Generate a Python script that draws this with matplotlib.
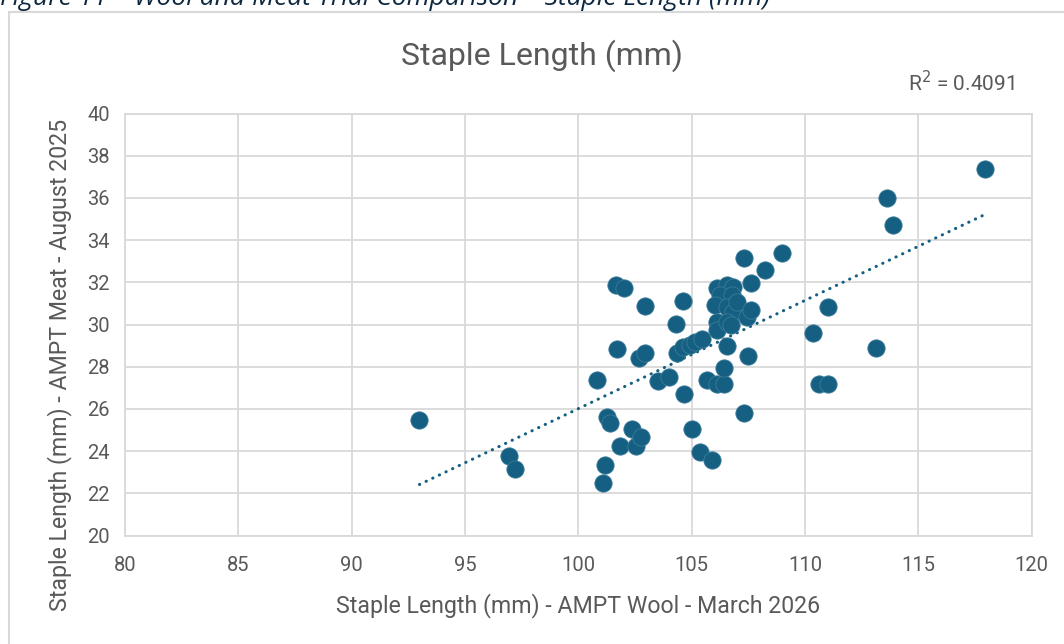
import numpy as np
import matplotlib
matplotlib.use("Agg")
import matplotlib.pyplot as plt
from matplotlib.patches import Rectangle

# ---- data ----
wool_march_2026 = [
    92.99, 96.94, 97.20, 100.84, 101.10, 101.18, 101.25, 101.40, 101.66, 102.03,
    101.69, 101.84, 102.35, 102.55, 102.76, 102.69, 102.94, 102.94, 103.53, 104.01,
    104.30, 104.34, 104.63, 104.63, 104.67, 104.93, 105.00, 105.15, 105.44, 105.37,
    105.88, 105.66, 106.10, 106.42, 106.42, 106.54, 106.10, 106.54, 106.84, 106.25,
    106.76, 106.03, 106.54, 106.84, 106.98, 106.10, 106.10, 106.54, 106.73, 107.32,
    107.32, 107.50, 107.43, 107.60, 107.60, 108.23, 108.97, 110.34, 110.63, 111.03,
    111.00, 113.13, 113.60, 113.87, 117.94,
]
meat_august_2025 = [
    25.46, 23.77, 23.15, 27.37, 22.50, 23.34, 25.63, 25.35, 31.87, 31.72,
    28.82, 24.26, 25.05, 24.26, 24.68, 28.40, 28.66, 30.89, 27.34, 27.53,
    30.02, 28.66, 28.92, 31.11, 26.71, 29.03, 25.05, 29.18, 29.33, 23.94,
    23.58, 27.37, 27.18, 27.18, 27.92, 28.98, 31.75, 31.87, 31.79, 31.40,
    31.40, 30.92, 30.84, 30.60, 31.08, 30.13, 29.75, 30.13, 30.00, 33.14,
    25.79, 28.51, 30.37, 30.69, 31.98, 32.58, 33.37, 29.61, 27.18, 27.18,
    30.84, 28.88, 35.98, 34.72, 37.36,
]
x_ticks = [80, 85, 90, 95, 100, 105, 110, 115, 120]
y_ticks = [20, 22, 24, 26, 28, 30, 32, 34, 36, 38, 40]
chart_title = "Staple Length (mm)"
x_label = "Staple Length (mm) - AMPT Wool - March 2026"
y_label = "Staple Length (mm) - AMPT Meat - August 2025"
r2_text = "R$^2$ = 0.4091"
caption = "Figure 11 \u2013 Wool and Meat Trial Comparison \u2013 Staple Length (mm)"

# ---- style ----
W, H = 1064, 644
DPI = 100
marker_color = "#156082"
grid_color = "#D9D9D9"
text_color = "#595959"

plt.rcParams["font.family"] = ["Roboto", "DejaVu Sans"]

fig = plt.figure(figsize=(W / DPI, H / DPI), dpi=DPI)
fig.patch.set_facecolor("white")

# chart outer border
fig.patches.append(Rectangle((9 / W, -0.05), 1.2, 1 - 12 / H + 0.05,
                             transform=fig.transFigure, fill=False,
                             edgecolor=grid_color, linewidth=1.5, zorder=0))

# caption (cut at the top like the reference)
fig.text(0 / W, 1 - 5 / H, caption, ha="left", va="baseline",
         fontsize=19, style="italic", color="#0E2841",
         family=["Open Sans", "DejaVu Sans"])

left, right = 125 / W, 1031.7 / W
bottom, top = 1 - 535.5 / H, 1 - 113.5 / H
ax = fig.add_axes([left, bottom, right - left, top - bottom])
ax_w_px = (right - left) * W
ax_h_px = (top - bottom) * H

x = np.array(wool_march_2026)
y = np.array(meat_august_2025)

ax.scatter(x, y, s=155, color=marker_color, edgecolors="#3b7a99",
           linewidths=0.6, zorder=3)

# linear trend line (Excel style, spans the data)
slope, intercept = np.polyfit(x, y, 1)
xs = np.array([x.min(), x.max()])
ax.plot(xs, slope * xs + intercept, color=marker_color, linewidth=2.2,
        linestyle=(0, (0.1, 2.3)), dash_capstyle="round", zorder=2)

ax.set_xlim(80, 120)
ax.set_ylim(20, 40)
ax.set_xticks(x_ticks)
ax.set_yticks(y_ticks)
ax.grid(True, color=grid_color, linewidth=1.3, zorder=0)
ax.set_axisbelow(True)
for sp in ax.spines.values():
    sp.set_color(grid_color)
    sp.set_linewidth(1.3)
ax.tick_params(length=0, labelsize=14.5, labelcolor=text_color, pad=11)
ax.tick_params(axis="x", pad=15)

ax.set_xlabel(x_label, fontsize=16.7, color=text_color)
ax.xaxis.label.set_va("center")
ax.xaxis.set_label_coords(0.5, -(606 - 535.5) / ax_h_px)
ax.set_ylabel(y_label, fontsize=16.7, color=text_color)
ax.yaxis.label.set_va("center")
ax.yaxis.set_label_coords(-(125 - 60) / ax_w_px, (535.5 - 365) / ax_h_px)

fig.text(542 / W, 1 - 56 / H, chart_title, ha="center", va="center",
         fontsize=23, color=text_color)
fig.text(1015 / W, 1 - 83 / H, r2_text, ha="right", va="center",
         fontsize=15, color=text_color)

fig.savefig("out.png", dpi=DPI, facecolor="white")
